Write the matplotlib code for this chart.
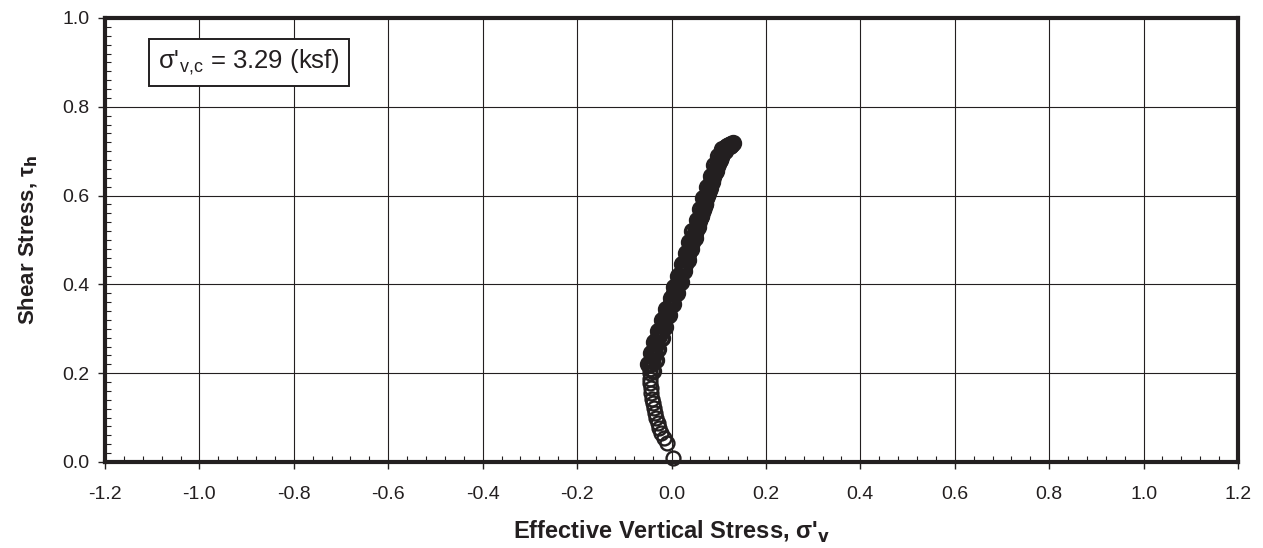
import matplotlib
matplotlib.use('Agg')
import matplotlib.pyplot as plt
from matplotlib.ticker import MultipleLocator, FormatStrFormatter

plt.rcParams['font.family'] = ['Liberation Sans', 'DejaVu Sans']
plt.rcParams['axes.unicode_minus'] = False

# stress path (ksf-normalised)
sigma_v = [0.003, -0.009, -0.016, -0.023, -0.026, -0.029, -0.032, -0.034, -0.037, -0.039,
           -0.041, -0.043, -0.044, -0.045, -0.046, -0.046, -0.045, -0.044, -0.042, -0.040,
           -0.038, -0.037, -0.035, -0.032, -0.030, -0.027, -0.024, -0.022, -0.019, -0.016,
           -0.013, -0.011, -0.008, -0.005, -0.002, 0.001, 0.004, 0.006, 0.009, 0.011,
           0.014, 0.016, 0.019, 0.021, 0.024, 0.026, 0.028, 0.030, 0.033, 0.035,
           0.037, 0.039, 0.041, 0.043, 0.046, 0.048, 0.050, 0.052, 0.054, 0.056,
           0.058, 0.060, 0.062, 0.064, 0.066, 0.068, 0.070, 0.072, 0.073, 0.075,
           0.077, 0.079, 0.081, 0.082, 0.084, 0.086, 0.088, 0.090, 0.092, 0.094,
           0.096, 0.098, 0.100, 0.102, 0.104, 0.106, 0.108, 0.110, 0.112, 0.114,
           0.116, 0.118, 0.120, 0.122, 0.124, 0.125, 0.126]
tau_h = [0.008, 0.042, 0.055, 0.065, 0.076, 0.087, 0.098, 0.110, 0.121, 0.132,
         0.143, 0.155, 0.166, 0.177, 0.188, 0.200, 0.210, 0.220, 0.228, 0.236,
         0.245, 0.252, 0.260, 0.268, 0.276, 0.284, 0.292, 0.300, 0.308, 0.316,
         0.324, 0.332, 0.340, 0.348, 0.356, 0.364, 0.372, 0.380, 0.388, 0.396,
         0.403, 0.410, 0.418, 0.425, 0.432, 0.440, 0.447, 0.454, 0.461, 0.468,
         0.475, 0.482, 0.489, 0.496, 0.503, 0.510, 0.516, 0.522, 0.529, 0.536,
         0.542, 0.549, 0.555, 0.562, 0.568, 0.575, 0.581, 0.588, 0.594, 0.600,
         0.606, 0.612, 0.618, 0.624, 0.630, 0.636, 0.642, 0.648, 0.654, 0.660,
         0.666, 0.672, 0.678, 0.683, 0.688, 0.693, 0.697, 0.701, 0.704, 0.707,
         0.709, 0.711, 0.712, 0.713, 0.714, 0.715, 0.716]

# scattered points on the right side of the band
sigma_v_b = [-0.039, -0.033, -0.028, -0.021, -0.013, -0.006, 0.003, 0.011, 0.020, 0.027,
             0.034, 0.042, 0.049, 0.056, 0.063, 0.070, 0.077, 0.085, 0.094, 0.103,
             0.114, 0.124, 0.130]
tau_h_b = [0.205, 0.230, 0.255, 0.280, 0.305, 0.330, 0.355, 0.380, 0.405, 0.430,
           0.455, 0.480, 0.505, 0.530, 0.555, 0.580, 0.605, 0.630, 0.655, 0.680,
           0.700, 0.712, 0.718]

# scattered points on the left side of the band
sigma_v_c = [-0.049, -0.043, -0.037, -0.028, -0.020, -0.011, -0.002, 0.006, 0.014, 0.022,
             0.030, 0.038, 0.044, 0.053, 0.060, 0.067, 0.075, 0.083, 0.091, 0.099,
             0.106]
tau_h_c = [0.220, 0.245, 0.270, 0.295, 0.320, 0.345, 0.370, 0.395, 0.420, 0.445,
           0.470, 0.495, 0.520, 0.545, 0.570, 0.595, 0.620, 0.645, 0.670, 0.690,
           0.705]

x_ticks = [-1.2, -1.0, -0.8, -0.6, -0.4, -0.2, 0.0, 0.2, 0.4, 0.6, 0.8, 1.0, 1.2]
y_ticks = [0.0, 0.2, 0.4, 0.6, 0.8, 1.0]

fig = plt.figure(figsize=(12.63, 5.48), dpi=100)
ax = fig.add_axes([105 / 1263, 86 / 548, 1133 / 1263, 444 / 548])

# first cycles: sparse, thinner open circles; later cycles: dense band
n_start = 17
ax.plot(sigma_v[:n_start], tau_h[:n_start], linestyle='none', marker='o', markersize=10,
        markerfacecolor='none', markeredgecolor='#231f20', markeredgewidth=1.7,
        zorder=3, clip_on=False)
for xs, ys in [(sigma_v[n_start:], tau_h[n_start:]), (sigma_v_b, tau_h_b), (sigma_v_c, tau_h_c)]:
    ax.plot(xs, ys, linestyle='none', marker='o', markersize=10,
            markerfacecolor='none', markeredgecolor='#231f20', markeredgewidth=2.5,
            zorder=3, clip_on=False)

ax.set_xlim(-1.2, 1.2)
ax.set_ylim(0.0, 1.0)
ax.set_xticks(x_ticks)
ax.set_yticks(y_ticks)
ax.xaxis.set_major_formatter(FormatStrFormatter('%.1f'))
ax.yaxis.set_major_formatter(FormatStrFormatter('%.1f'))
ax.xaxis.set_minor_locator(MultipleLocator(0.04))
ax.yaxis.set_minor_locator(MultipleLocator(0.02))

ax.grid(True, which='major', color='#231f20', linewidth=0.8)
ax.tick_params(which='major', direction='out', length=5, width=1, labelsize=14,
               colors='#231f20', pad=6)
ax.tick_params(axis='x', which='major', pad=12)
ax.tick_params(which='minor', direction='in', length=4, width=0.8, colors='#231f20')

for s in ax.spines.values():
    s.set_linewidth(3)
    s.set_color('#231f20')

ax.set_xlabel("Effective Vertical Stress, σ'$_\\mathbf{v}$", fontsize=17,
              fontweight='bold', color='#231f20', labelpad=12)
ax.set_ylabel("Shear Stress, τ$_\\mathbf{h}$", fontsize=16,
              fontweight='bold', color='#231f20', labelpad=16)

ax.text(0.047, 0.9, "σ'$_\\mathregular{v{,}c}$ = 3.29 (ksf)", transform=ax.transAxes,
        fontsize=18.5, color='#231f20', va='center', ha='left',
        bbox=dict(boxstyle='square,pad=0.35', facecolor='white',
                  edgecolor='#231f20', linewidth=1.4), zorder=4)

fig.savefig('out.png', dpi=100)
